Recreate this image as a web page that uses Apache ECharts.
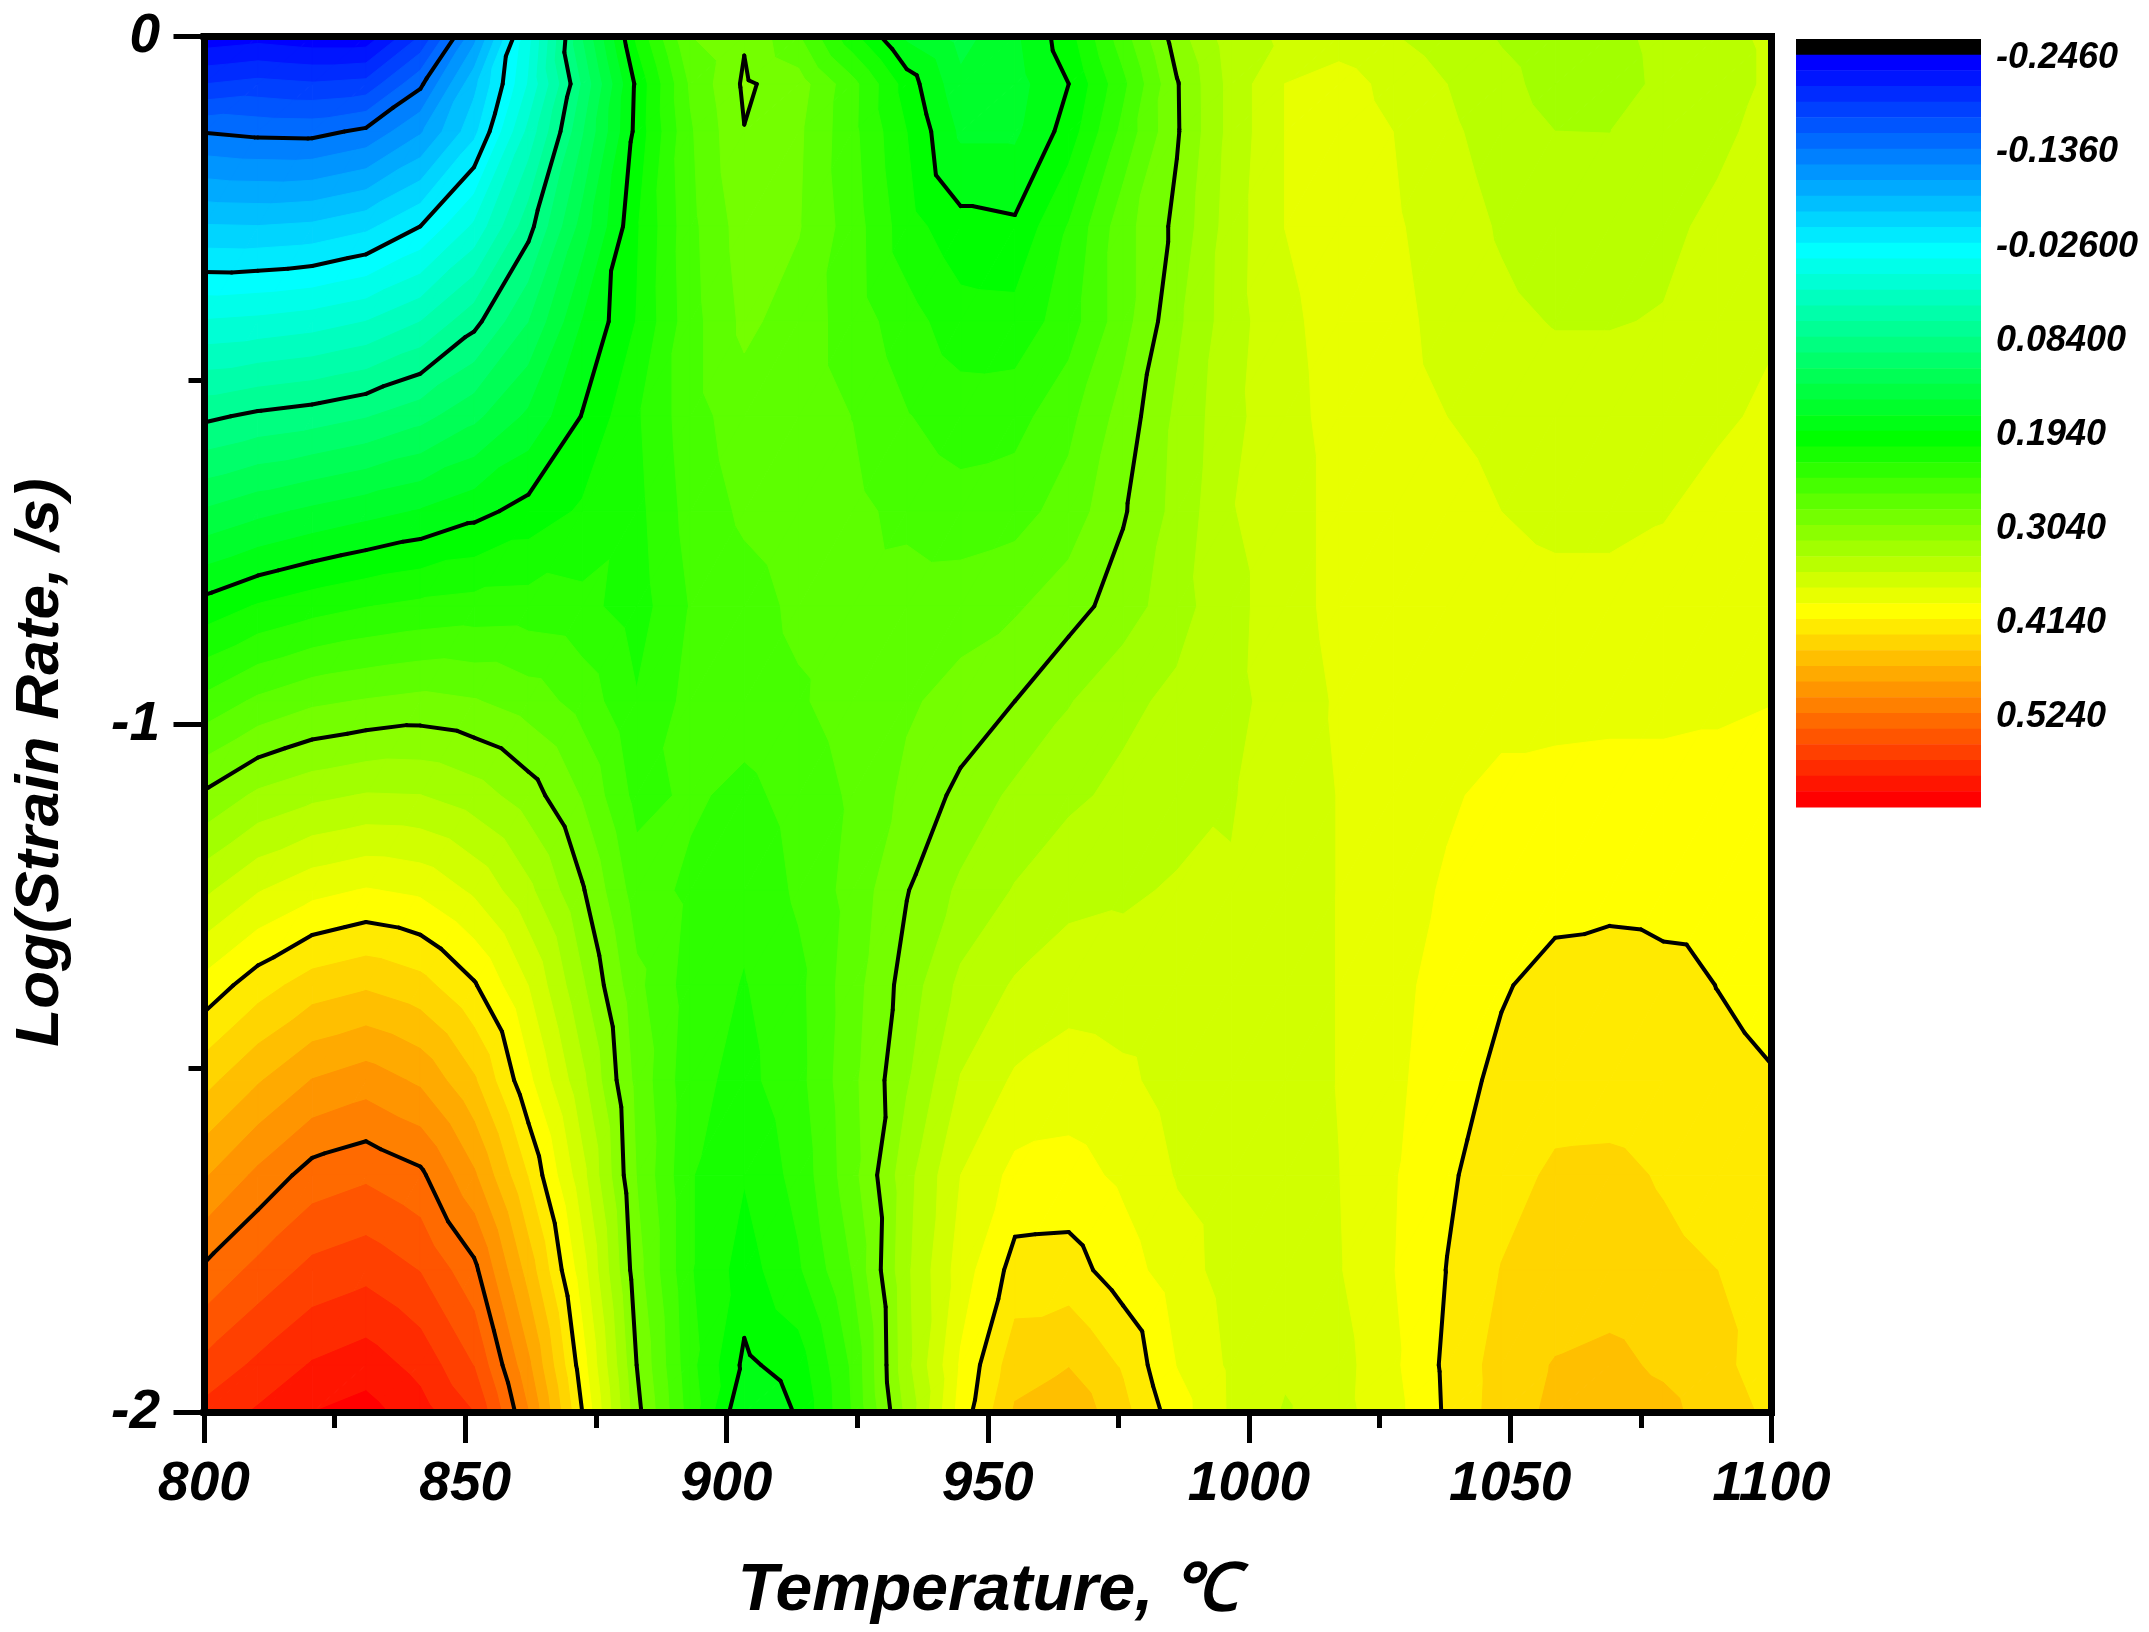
<!DOCTYPE html>
<html><head><meta charset="utf-8">
<style>html,body{margin:0;padding:0;background:#fff}#c{width:2149px;height:1632px}</style>
<script src="https://cdn.jsdelivr.net/npm/echarts@6/dist/echarts.min.js"></script>
</head><body><div id="c"></div>
<script>
// Grid knots
const temps = [800,810.3,820.7,831,841.4,851.7,862.1,872.4,882.8,893.1,903.4,913.8,924.1,934.5,944.8,955.2,965.5,975.9,986.2,996.6,1006.9,1017.2,1027.6,1037.9,1048.3,1058.6,1069,1079.3,1089.7,1100];
const logRates = [0,-0.069,-0.138,-0.276,-0.414,-0.552,-0.69,-0.828,-0.966,-1.103,-1.241,-1.379,-1.517,-1.655,-1.793,-1.931,-2];
const r00=[-.24,-.235,-.24,-.24,-.19,-.106,.004,.12,.216,.285,.302,.269,.218,.172,.15,.172,.205,.259,.314,.351,.362,.368,.36,.35,.339,.33,.335,.346,.354,.362];
const r01=[-.191,-.185,-.189,-.185,-.14,-.068,.012,.104,.198,.27,.307,.294,.255,.204,.162,.168,.194,.244,.3025,.347,.3775,.3855,.3715,.359,.3465,.333,.332,.345,.351,.362];
const r02=[-.137,-.141,-.142,-.132,-.102,-.05,.034,.118,.2,.265,.3035,.289,.254,.2123,.172,.172,.202,.254,.302,.347,.3775,.388,.3773,.3625,.351,.3407,.3405,.3455,.355,.365];
const r04=[-.061,-.062,-.059,-.049,-.026,.014,.077,.146,.21,.262,.295,.287,.258,.22,.2,.197,.232,.278,.309,.35,.3775,.388,.38,.368,.357,.35,.35,.355,.363,.372];
const r06=[.012,.015,.02,.029,.047,.078,.12,.176,.213,.26,.29,.277,.259,.238,.22,.219,.24,.278,.318,.351,.373,.385,.383,.371,.363,.358,.358,.36,.369,.375];
const r08=[.08,.088,.093,.101,.114,.134,.161,.195,.228,.26,.277,.277,.267,.25,.24,.242,.262,.293,.326,.354,.371,.384,.385,.3773,.372,.368,.368,.37,.374,.381];
const r10=[.141,.152,.161,.169,.177,.188,.201,.215,.225,.256,.2705,.277,.272,.262,.256,.26,.275,.302,.328,.358,.368,.384,.388,.384,.3773,.372,.372,.376,.384,.392];
const r12=[.201,.214,.223,.23,.235,.238,.239,.236,.222,.25,.26,.271,.275,.277,.278,.283,.296,.313,.333,.354,.368,.384,.388,.389,.387,.384,.384,.386,.39,.394];
const r14=[.254,.271,.282,.287,.291,.287,.277,.26,.232,.255,.258,.265,.276,.283,.292,.304,.321,.336,.345,.355,.365,.38,.384,.387,.389,.389,.39,.39,.392,.395];
const r16=[.307,.326,.336,.342,.341,.331,.313,.284,.243,.252,.244,.256,.27,.29,.309,.3265,.337,.345,.3515,.358,.366,.378,.385,.393,.401,.403,.404,.404,.404,.403];
const r18=[.355,.376,.39,.397,.392,.374,.345,.306,.258,.245,.235,.252,.274,.303,.326,.342,.353,.356,.361,.36,.366,.378,.387,.398,.405,.407,.408,.407,.406,.402];
const r20=[.402,.424,.441,.448,.439,.416,.377,.325,.272,.24,.2295,.244,.278,.312,.345,.361,.37,.368,.366,.365,.367,.378,.39,.403,.412,.421,.424,.42,.4137,.409];
const r22=[.444,.467,.488,.497,.484,.453,.40,.345,.28,.236,.225,.243,.281,.32,.36,.38,.386,.381,.37,.367,.367,.378,.392,.405,.419,.424,.425,.423,.419,.415];
const r24=[.485,.51,.532,.539,.528,.49,.431,.365,.285,.232,.2135,.237,.279,.334,.3773,.401,.4025,.392,.376,.369,.368,.377,.394,.411,.425,.4355,.436,.431,.426,.421];
const r26=[.527,.548,.566,.573,.56,.529,.461,.385,.293,.232,.204,.228,.268,.337,.386,.421,.4217,.4045,.385,.37,.367,.376,.395,.4145,.433,.437,.44,.436,.4323,.426];
const r28=[.565,.583,.599,.607,.591,.56,.491,.404,.304,.236,.19,.203,.252,.335,.398,.443,.4498,.43,.395,.374,.362,.37,.392,.418,.44,.452,.456,.447,.436,.425];
const r29=[.585,.60,.6157,.623,.605,.579,.506,.414,.31,.24,.176,.196,.25,.327,.4035,.453,.465,.438,.404,.3745,.357,.371,.389,.417,.441,.455,.463,.457,.44,.429];
const grid2d=[r00,r01,r02,r04,r06,r08,r10,r12,r14,r16,r18,r20,r22,r24,r26,r28,r29];
const lineLevels=[-0.136,-0.026,0.084,0.194,0.304,0.414,0.524];
const legendLabels=['-0.2460','-0.1360','-0.02600','0.08400','0.1940','0.3040','0.4140','0.5240'];
const legendValues=[-0.246,-0.136,-0.026,0.084,0.194,0.304,0.414,0.524];
const legendNudge=0.0045;
const bandStep=0.11/6, bandCount=48, bandStart=-0.246;

// colour ramp: band index -> colour
const anchors=[[0,[0,0,255]],[12,[0,255,255]],[24,[0,255,0]],[35,[255,255,0]],[47,[255,0,0]]];
function bandColor(k){
  if(k<0) return '#000';
  for(let i=0;i<anchors.length-1;i++){
    const [a,ca]=anchors[i],[b,cb]=anchors[i+1];
    if(k<=b){const t=(k-a)/(b-a);return 'rgb('+ca.map((c,n)=>Math.round(c+(cb[n]-c)*t)).join(',')+')';}
  }
  return '#f00';
}
const bands=[];for(let k=-1;k<bandCount;k++)bands.push(k);
const edge=k=>bandStart+k*bandStep;

// triangles of the value grid
const tris=[];
for(let j=0;j<logRates.length-1;j++)for(let i=0;i<temps.length-1;i++){
  const P=(a,b)=>[temps[a],logRates[b],grid2d[b][a]];
  const A=P(i,j),B=P(i+1,j),C=P(i+1,j+1),D=P(i,j+1);
  tris.push([A,B,D],[B,C,D]);
}
function clipAbove(t,a){
  const out=[];
  for(let n=0;n<t.length;n++){
    const p=t[n],q=t[(n+1)%t.length];
    if(p[2]>=a)out.push(p);
    if((p[2]>=a)!==(q[2]>=a)){
      const f=(a-p[2])/(q[2]-p[2]);
      out.push([p[0]+(q[0]-p[0])*f,p[1]+(q[1]-p[1])*f,a]);
    }
  }
  return out;
}
function segment(t,a){
  const pts=[];
  for(let n=0;n<3;n++){
    const p=t[n],q=t[(n+1)%3];
    if((p[2]>=a)!==(q[2]>=a)){
      const f=(a-p[2])/(q[2]-p[2]);
      pts.push([p[0]+(q[0]-p[0])*f,p[1]+(q[1]-p[1])*f]);
    }
  }
  return pts.length===2?pts:null;
}
const F='"Liberation Sans",Arial,sans-serif';
const txt={fontFamily:F,fontWeight:'bold',fontStyle:'italic',color:'#000'};
const blackLine={show:true,onZero:false,lineStyle:{color:'#000',width:7,cap:'square'}};

const option={
  animation:false,backgroundColor:'#fff',
  grid:[
    {left:204,top:36.5,width:1567.5,height:1376,outerBoundsMode:'none'},
    {left:1796,top:39,width:185,height:768,outerBoundsMode:'none'}
  ],
  xAxis:[
    {type:'value',gridIndex:0,position:'bottom',min:800,max:1100,interval:50,z:10,
     axisLine:blackLine,
     axisTick:{show:true,length:30.5,lineStyle:{color:'#000',width:5}},
     minorTick:{show:true,splitNumber:2,length:15.5,lineStyle:{color:'#000',width:5}},
     splitLine:{show:false},
     axisLabel:{...txt,fontSize:55,margin:45,showMinLabel:true,showMaxLabel:true,hideOverlap:false,formatter:v=>String(v)},
     name:'Temperature, ℃',nameLocation:'middle',nameGap:146,
     nameTextStyle:{...txt,fontSize:66}},
    {type:'value',gridIndex:0,position:'top',min:800,max:1100,z:10,
     axisLine:blackLine,axisTick:{show:false},axisLabel:{show:false},splitLine:{show:false}},
    {type:'value',gridIndex:1,min:0,max:1,show:false}
  ],
  yAxis:[
    {type:'value',gridIndex:0,position:'left',min:-2,max:0,interval:1,z:10,
     axisLine:blackLine,
     axisTick:{show:true,length:30.5,lineStyle:{color:'#000',width:5}},
     minorTick:{show:true,splitNumber:2,length:15.5,lineStyle:{color:'#000',width:5}},
     splitLine:{show:false},
     axisLabel:{...txt,fontSize:55,margin:44,showMinLabel:true,showMaxLabel:true,hideOverlap:false},
     name:'Log(Strain Rate, /s)',nameLocation:'middle',nameGap:132,nameRotate:90,
     nameTextStyle:{...txt,fontSize:62,padding:[0,76,0,0]}},
    {type:'value',gridIndex:0,position:'right',min:-2,max:0,z:10,
     axisLine:blackLine,axisTick:{show:false},axisLabel:{show:false},splitLine:{show:false}},
    {type:'value',gridIndex:1,position:'right',inverse:true,min:edge(-1),max:edge(bandCount),
     axisLine:{show:false},axisTick:{show:false},splitLine:{show:false},
     axisLabel:{...txt,fontSize:36,margin:15,customValues:legendValues.map(v=>v+legendNudge),
       showMinLabel:true,showMaxLabel:true,hideOverlap:false,
       formatter:v=>{const i=legendValues.findIndex(x=>Math.abs(x+legendNudge-v)<1e-6);return i>=0?legendLabels[i]:'';}}}
  ],
  series:[
    {type:'custom',name:'fill',xAxisIndex:0,yAxisIndex:0,z:2,silent:true,
     data:bands.map(k=>[k]),
     renderItem(params,api){
       const k=api.value(0),lo=k<0?-Infinity:edge(k),hi=edge(k+1),col=bandColor(k),children=[];
       for(const t of tris){
         const vs=t.map(p=>p[2]),mx=Math.max(...vs),mn=Math.min(...vs);
         if(mx<lo)continue;
         if(k<bandCount-1&&mn>=hi)continue;
         const poly=clipAbove(t,lo);
         if(poly.length<3)continue;
         children.push({type:'polygon',shape:{points:poly.map(p=>api.coord([p[0],p[1]]))},
           style:{fill:col,stroke:col,lineWidth:1}});
       }
       return {type:'group',children};
     }},
    {type:'custom',name:'lines',xAxisIndex:0,yAxisIndex:0,z:3,silent:true,
     data:lineLevels.map(v=>[v]),
     renderItem(params,api){
       const a=api.value(0),children=[];
       for(const t of tris){
         const s=segment(t,a);
         if(!s)continue;
         const p=api.coord(s[0]),q=api.coord(s[1]);
         children.push({type:'line',shape:{x1:p[0],y1:p[1],x2:q[0],y2:q[1]},
           style:{stroke:'#000',lineWidth:4,lineCap:'round'}});
       }
       return {type:'group',children};
     }},
    {type:'custom',name:'colorbar',xAxisIndex:2,yAxisIndex:2,z:2,silent:true,
     data:bands.map(k=>[k]),
     renderItem(params,api){
       const k=api.value(0),a=api.coord([0,edge(k)]),b=api.coord([1,edge(k+1)]);
       return {type:'rect',shape:{x:a[0],y:a[1],width:b[0]-a[0],height:b[1]-a[1]+0.5},
         style:{fill:bandColor(k)}};
     }}
  ]
};
echarts.init(document.getElementById('c'),null,{renderer:'canvas'}).setOption(option);
</script></body></html>
